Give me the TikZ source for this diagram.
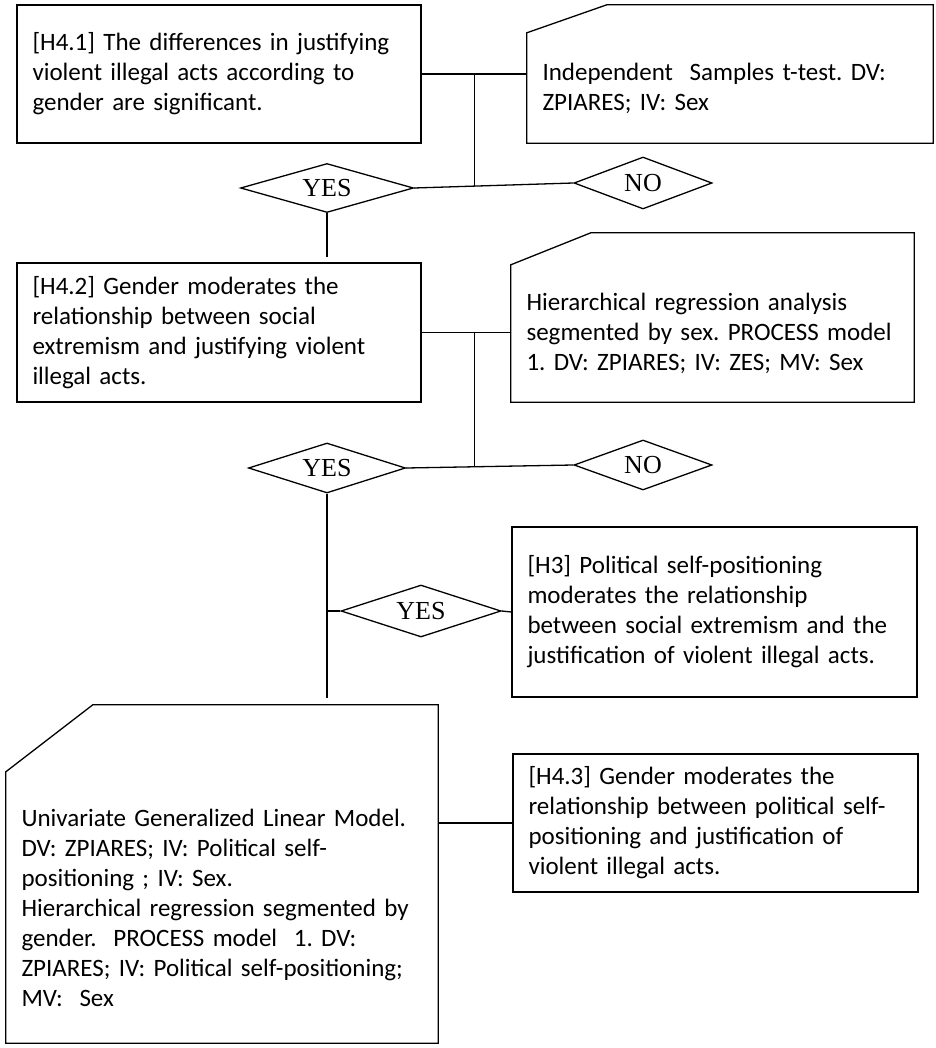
\documentclass[tikz,border=0pt]{standalone}
\usepackage{fontspec}
\setmainfont{Carlito}
\newfontfamily\yesnofont{Liberation Serif}
\usetikzlibrary{shapes.geometric,calc}
\frenchspacing
\begin{document}
\begin{tikzpicture}[x=1pt, y=-1pt, font=\fontsize{25}{30}\selectfont]
    \tikzstyle{box_style} = [draw, line width=1.3, inner xsep=15.5, inner ysep=0, align=left]
    \tikzstyle{snip_style} = [inner xsep=15.5, inner ysep=0, align=left]
    \tikzstyle{diamond_style} = [draw, diamond, line width=1.3, inner sep=0, aspect=3.5, font=\yesnofont\fontsize{26}{30}\selectfont]
    \tikzstyle{line_style} = [line width=1.3, black]

    \useasboundingbox (0,0) rectangle (935,1048);

    \node[box_style, text width=373, minimum height=138] (h41) at (219,74) {[H4.1] The differences in justifying\\violent illegal acts according to\\gender are significant.};
    \node[snip_style, text width=375, minimum height=110] (ttest) at (730,88) {Independent \ Samples t-test. DV:\\ZPIARES; IV: Sex};
    \node[box_style, text width=373, minimum height=139] (h42) at (219,332.5) {[H4.2] Gender moderates the\\relationship between social\\extremism and justifying violent\\illegal acts.};
    \node[snip_style, text width=372, minimum height=137] (hra) at (712.5,333.5) {Hierarchical regression analysis\\segmented by sex. PROCESS model\\1. DV: ZPIARES; IV: ZES; MV: Sex};
    \node[box_style, text width=374, minimum height=170] (h3) at (714.5,612) {[H3] Political self-positioning\\moderates the relationship\\between social extremism and the\\justification of violent illegal acts.};
    \node[snip_style, text width=401, minimum height=271] (glm) at (222,907.5) {Univariate Generalized Linear Model.\\DV: ZPIARES; IV: Political self-\\positioning ; IV: Sex.\\Hierarchical regression segmented by\\gender. \ PROCESS model \ 1. DV:\\ZPIARES; IV: Political self-positioning;\\MV: \ Sex};
    \node[box_style, text width=374, minimum height=138] (h43) at (715.5,823) {[H4.3] Gender moderates the\\relationship between political self-\\positioning and justification of\\violent illegal acts.};

    \draw[line_style] (ttest.south west) -- (ttest.north west) -- ++(80,-28) -| (ttest.south east) -- cycle;
    \draw[line_style] (hra.south west) -- (hra.north west) -- ++(80,-32) -| (hra.south east) -- cycle;
    \draw[line_style] (glm.south west) -- (glm.north west) -- ++(87,-67) -| (glm.south east) -- cycle;

    \node[diamond_style, minimum width=173, minimum height=49] (yes1) at (327,188) {YES};
    \node[diamond_style, minimum width=138, minimum height=52] (no1) at (643,183) {NO};
    \node[diamond_style, minimum width=157, minimum height=50] (yes2) at (327,468) {YES};
    \node[diamond_style, minimum width=138, minimum height=50] (no2) at (643,465) {NO};
    \node[diamond_style, minimum width=160, minimum height=52] (yes3) at (421,611) {YES};

    \coordinate (j1) at ($(yes1.east)!0.38!(no1.west)$);
    \coordinate (j2) at ($(yes2.east)!0.41!(no2.west)$);
    \coordinate (c_glm) at (327,698);

    \draw[line_style] (h41.east) -- (h41.east -| ttest.west);
    \draw[line_style] (j1 |- h41.east) -- (j1);
    \draw[line_style] (yes1.east) -- (no1.west);
    \draw[line_style, shorten >=5] (yes1.south) -- (h42.north -| yes1.south);
    \draw[line_style] (h42.east) -- (h42.east -| hra.west);
    \draw[line_style] (j2 |- h42.east) -- (j2);
    \draw[line_style] (yes2.east) -- (no2.west);
    \draw[line_style] (yes2.south) -- (c_glm);
    \draw[line_style] (yes3.west) -- (yes3.west -| yes2.south);
    \draw[line_style] (yes3.east) -- (h3.west);
    \draw[line_style] (h43.west -| glm.east) -- (h43.west);
\end{tikzpicture}
\end{document}
